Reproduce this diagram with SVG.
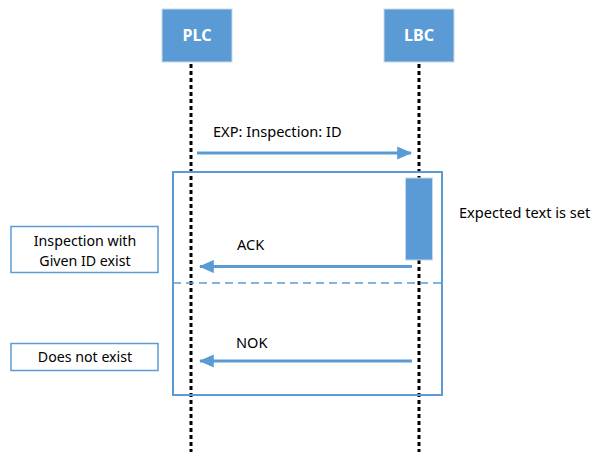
<svg xmlns="http://www.w3.org/2000/svg" width="593" height="452" viewBox="0 0 593 452">
<defs>
<style>
.actor{fill:#5B9BD5;stroke:#C9D9EA;stroke-width:1}
.actorText{font-family:"Noto Sans",Roboto,sans-serif;font-size:16px;font-weight:bold;fill:#fff;text-anchor:middle}
.life{stroke:#000;stroke-width:3;stroke-dasharray:4 3;fill:none}
.msg{stroke:#5B9BD5;stroke-width:3;fill:none}
.lbl{font-family:"Noto Sans",Roboto,sans-serif;font-size:14.6px;fill:#000}
.nlbl{font-family:"Noto Sans",Roboto,sans-serif;font-size:14.2px;fill:#000;text-anchor:middle}
.note{fill:#fff;stroke:#5B9BD5;stroke-width:1.5}
.frame{fill:none;stroke:#5B9BD5;stroke-width:2}
</style>
<marker id="ah" markerWidth="5" markerHeight="4.4" refX="4.6" refY="2.2" orient="auto" markerUnits="strokeWidth">
<path d="M0,0 L5,2.2 L0,4.4 Z" fill="#5B9BD5"/>
</marker>
</defs>
<rect width="593" height="452" fill="#fff"/>
<g id="PLC">
<rect class="actor" x="162" y="9" width="70" height="53"/>
<text class="actorText" x="197" y="41">PLC</text>
</g>
<g id="LBC">
<rect class="actor" x="384" y="9" width="70" height="53"/>
<text class="actorText" x="419" y="41">LBC</text>
</g>
<g id="lifelines">
<line class="life" x1="191" y1="64" x2="191" y2="452"/>
<line class="life" x1="419" y1="64" x2="419" y2="452"/>
</g>
<g id="frame">
<rect class="frame" x="173" y="172" width="269" height="223"/>
<line x1="173" y1="283" x2="442" y2="283" stroke="#5B9BD5" stroke-width="1.5" stroke-dasharray="8 5"/>
</g>
<g id="activation">
<rect x="405.5" y="178" width="27" height="82" fill="#5B9BD5" stroke="#C9D9EA" stroke-width="1"/>
</g>
<g id="connectors">
<line class="msg" x1="197" y1="153" x2="411" y2="153" marker-end="url(#ah)"/>
<line class="msg" x1="412" y1="266.5" x2="200" y2="266.5" marker-end="url(#ah)"/>
<line class="msg" x1="412" y1="361" x2="200" y2="361" marker-end="url(#ah)"/>
</g>
<g id="labels">
<text class="lbl" x="213" y="137">EXP: Inspection: ID</text>
<text class="lbl" x="237" y="250">ACK</text>
<text class="lbl" x="236" y="348">NOK</text>
<text class="lbl" x="459" y="218">Expected text is set</text>
</g>
<g id="note1">
<rect class="note" x="11" y="226.5" width="147" height="46"/>
<text class="nlbl" x="85" y="246">Inspection with</text>
<text class="nlbl" x="85" y="266">Given ID exist</text>
</g>
<g id="note2">
<rect class="note" x="11" y="343.5" width="147" height="27"/>
<text class="nlbl" x="85" y="362">Does not exist</text>
</g>
</svg>
